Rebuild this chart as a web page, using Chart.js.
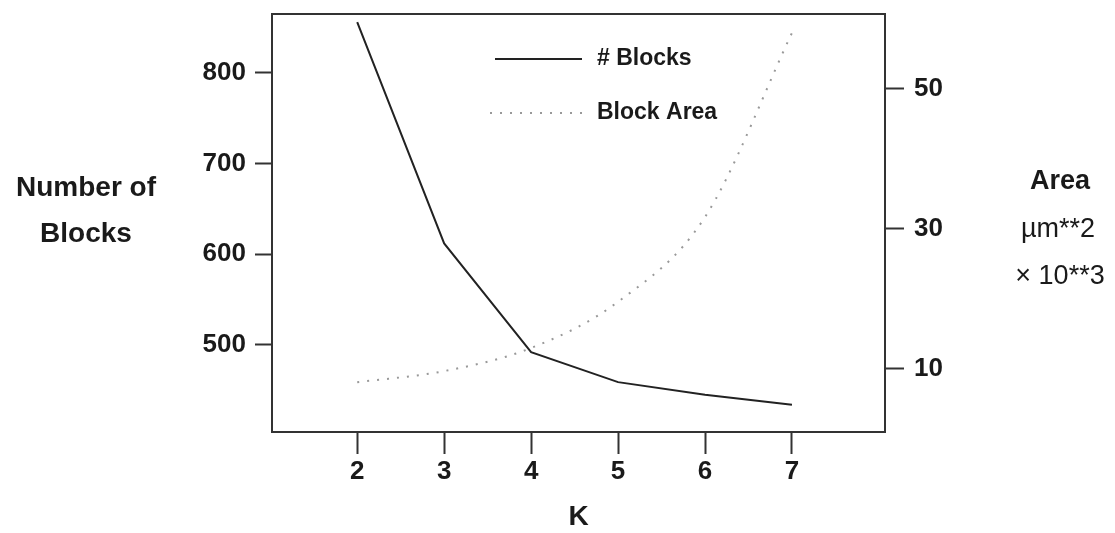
<!DOCTYPE html>
<html lang="en">
<head>
    <meta charset="UTF-8">
    <title>Blocks vs K</title>
    <style>
        html, body {
            margin: 0;
            padding: 0;
            background: #fff;
        }
        .chart-container {
            width: 1115px;
            height: 533px;
        }
    </style>
</head>
<body>
    <div class="chart-container">
        <canvas id="chart" width="1115" height="533"></canvas>
    </div>

    <script src="https://cdn.jsdelivr.net/npm/chart.js"></script>

    <script>
        // values
        const kValues = [2, 3, 4, 5, 6, 7];
        const numBlocks = [856, 612, 492, 459, 445, 434];
        const blockArea = [8.1, 9.7, 13.0, 19.6, 31.7, 58];

        const kTicks = [2, 3, 4, 5, 6, 7];
        const blockTicks = [500, 600, 700, 800];
        const areaTicks = [10, 30, 50];

        const leftTitle = ['Number of', 'Blocks'];
        const rightTitle = ['Area', 'µm**2', '× 10**3'];
        const legendLabels = ['# Blocks', 'Block Area'];

        const FONT = '"Liberation Sans", Arial, Helvetica, sans-serif';
        const INK = '#1a1a1a';

        const toPoints = (xs, ys) => xs.map((x, i) => ({ x: x, y: ys[i] }));

        // box around the plot + text that Chart.js has no slot for
        const decorations = {
            id: 'decorations',
            afterDraw(chart) {
                const ctx = chart.ctx;
                const a = chart.chartArea;
                ctx.save();

                // frame
                ctx.strokeStyle = '#333';
                ctx.lineWidth = 2;
                ctx.strokeRect(a.left, a.top, a.right - a.left, a.bottom - a.top);

                ctx.fillStyle = INK;
                ctx.textAlign = 'center';
                ctx.textBaseline = 'middle';

                // left axis title, horizontal
                ctx.font = 'bold 28px ' + FONT;
                ctx.fillText(leftTitle[0], 86, 188);
                ctx.fillText(leftTitle[1], 86, 234);

                // right axis title
                ctx.font = 'bold 27px ' + FONT;
                ctx.fillText(rightTitle[0], 1060, 182);
                ctx.font = '27px ' + FONT;
                ctx.fillText(rightTitle[1], 1058, 230);
                ctx.fillText(rightTitle[2], 1060, 277);

                // legend inside the plot
                const lx0 = a.left + 223, lx1 = a.left + 310, tx = a.left + 325;
                const rows = [a.top + 45, a.top + 99];
                ctx.lineWidth = 2;
                ctx.strokeStyle = '#222';
                ctx.setLineDash([]);
                ctx.beginPath();
                ctx.moveTo(lx0, rows[0]);
                ctx.lineTo(lx1, rows[0]);
                ctx.stroke();
                ctx.strokeStyle = '#999';
                ctx.setLineDash([2, 8]);
                ctx.beginPath();
                ctx.moveTo(lx0 - 5, rows[1]);
                ctx.lineTo(lx1, rows[1]);
                ctx.stroke();
                ctx.setLineDash([]);

                ctx.font = 'bold 23px ' + FONT;
                ctx.textAlign = 'left';
                ctx.fillText(legendLabels[0], tx, rows[0]);
                ctx.fillText(legendLabels[1], tx, rows[1]);

                ctx.restore();
            }
        };

        const tickGrid = (len) => ({
            drawOnChartArea: false,
            drawTicks: true,
            tickLength: len,
            tickWidth: 2,
            tickColor: '#333'
        });

        // stop label overhang from shrinking the plot box
        const fitY = (w) => (s) => { s.width = w; s.paddingTop = 0; s.paddingBottom = 0; };

        new Chart(document.getElementById('chart').getContext('2d'), {
            type: 'line',
            data: {
                datasets: [
                    {
                        label: legendLabels[0],
                        data: toPoints(kValues, numBlocks),
                        yAxisID: 'y',
                        borderColor: '#222',
                        borderWidth: 2,
                        pointRadius: 0,
                        tension: 0
                    },
                    {
                        label: legendLabels[1],
                        data: toPoints(kValues, blockArea),
                        yAxisID: 'y2',
                        borderColor: '#999',
                        borderWidth: 2,
                        borderDash: [2, 8],
                        pointRadius: 0,
                        cubicInterpolationMode: 'monotone'
                    }
                ]
            },
            options: {
                responsive: false,
                animation: false,
                devicePixelRatio: 1,
                layout: { padding: { top: 14, left: 0, right: 0, bottom: 0 } },
                plugins: {
                    legend: { display: false },
                    tooltip: { enabled: false }
                },
                scales: {
                    x: {
                        type: 'linear',
                        min: 1.02,
                        max: 8.07,
                        grid: tickGrid(22),
                        border: { display: false },
                        afterBuildTicks: (s) => { s.ticks = kTicks.map(v => ({ value: v })); },
                        afterFit: (s) => { s.height = 101; s.paddingLeft = 0; s.paddingRight = 0; },
                        ticks: {
                            padding: 2,
                            color: INK,
                            font: { family: FONT, size: 26, weight: 'bold' }
                        },
                        title: {
                            display: true,
                            text: 'K',
                            color: INK,
                            padding: { top: 0, bottom: 2 },
                            font: { family: FONT, size: 28, weight: 'bold', lineHeight: 1 }
                        }
                    },
                    y: {
                        position: 'left',
                        min: 404,
                        max: 865,
                        grid: tickGrid(17),
                        border: { display: false },
                        afterBuildTicks: (s) => { s.ticks = blockTicks.map(v => ({ value: v })); },
                        afterFit: fitY(272),
                        ticks: {
                            padding: 9,
                            color: INK,
                            font: { family: FONT, size: 26, weight: 'bold' }
                        }
                    },
                    y2: {
                        position: 'right',
                        min: 1,
                        max: 60.7,
                        grid: tickGrid(19),
                        border: { display: false },
                        afterBuildTicks: (s) => { s.ticks = areaTicks.map(v => ({ value: v })); },
                        afterFit: fitY(230),
                        ticks: {
                            padding: 10,
                            color: INK,
                            font: { family: FONT, size: 26, weight: 'bold' }
                        }
                    }
                }
            },
            plugins: [decorations]
        });
    </script>
</body>
</html>
